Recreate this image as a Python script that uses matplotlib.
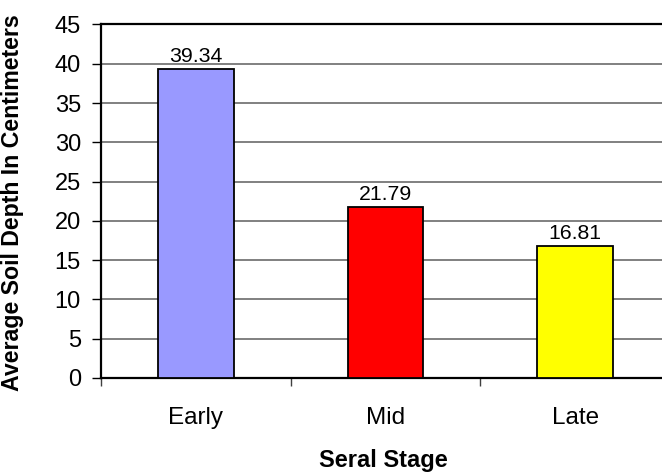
import matplotlib
matplotlib.use("Agg")
import matplotlib.pyplot as plt
import numpy as np

stages = ["Early", "Mid", "Late"]
depths = [39.34, 21.79, 16.81]
bar_colors = ["#9999FF", "#FF0000", "#FFFF00"]
y_ticks = [0, 5, 10, 15, 20, 25, 30, 35, 40, 45]

plt.rcParams["font.family"] = ["Liberation Sans", "DejaVu Sans"]

W, H = 662, 473
fig = plt.figure(figsize=(W / 100, H / 100), dpi=100)
left, right, bottom, top = 101, 670, 378, 24.5
ax = fig.add_axes([left / W, 1 - bottom / H, (right - left) / W, (bottom - top) / H])

x = np.arange(len(stages))
ax.bar(x, depths, width=0.4, color=bar_colors, edgecolor="black", linewidth=1.3, zorder=3)

for xi, v in zip(x, depths):
    ax.annotate(f"{v:.2f}", (xi, v), xytext=(0, 5), textcoords="offset points",
                ha="center", va="baseline", fontsize=15.3)

ax.set_xlim(-0.5, len(stages) - 0.5)
ax.set_ylim(0, 45)
ax.set_yticks(y_ticks)
ax.yaxis.grid(True, color="#808080", linewidth=1.4, zorder=0)
ax.set_axisbelow(True)

ax.set_xticks(x)
ax.set_xticklabels(stages, fontsize=17.5)
ax.tick_params(axis="x", which="major", length=0, pad=21)
ax.set_xticks(np.arange(-0.5, len(stages)), minor=True)
ax.tick_params(axis="x", which="minor", length=6, width=1, color="#404040")
ax.tick_params(axis="y", labelsize=17, length=6.5, width=1, pad=8)

for side in ["left", "bottom", "top"]:
    ax.spines[side].set_linewidth(1.6)
    ax.spines[side].set_color("black")
ax.spines["right"].set_visible(False)

fig.text(13 / W, 1 - 203 / H, "Average Soil Depth In Centimeters", rotation=90,
         ha="center", va="center", fontsize=16.7, fontweight="bold")
fig.text(383 / W, 1 - 467 / H, "Seral Stage", ha="center", va="baseline",
         fontsize=17, fontweight="bold")

fig.savefig("out.png", dpi=100)
